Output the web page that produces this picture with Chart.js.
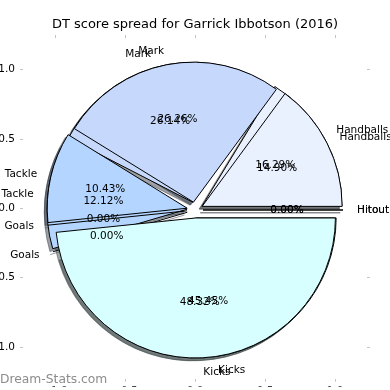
<!DOCTYPE html>
<html>
<head>
<meta charset="utf-8">
<title>DT score spread</title>
<script src="https://cdn.jsdelivr.net/npm/chart.js@4.4.1/dist/chart.umd.min.js"></script>
<style>
    html, body { margin: 0; padding: 0; background: #fff; }
    #wrap { position: relative; width: 390px; height: 390px; overflow: hidden; }
    #wrap canvas { position: absolute; left: 0; top: 0; }
</style>
</head>
<body>
<div id="wrap">
    <canvas id="shadowB" width="390" height="390"></canvas>
    <canvas id="shadowA" width="390" height="390"></canvas>
    <canvas id="pieB" width="390" height="390"></canvas>
    <canvas id="pieA" width="390" height="390"></canvas>
    <canvas id="axes" width="390" height="390"></canvas>
</div>
<script>
// Slices run clockwise from the right-hand side, same as the original plot.
const categories = ['Kicks', 'Goals', 'Tackle', 'Mark', 'Handballs', 'Hitout'];
const seasonValues = [48.32, 0, 10.43, 26.26, 14.90, 0];   // front pie
const careerValues = [45.45, 0, 12.12, 26.14, 16.29, 0];   // pie behind it
const sliceColors = ['#d8ffff', '#a8cdf6', '#b3d5ff', '#c6d9fd', '#e9f0fe', '#9db8dc'];
const xTickValues = [-1, -0.5, 0, 0.5, 1];
const yTickValues = [-1, -0.5, 0, 0.5, 1];
const chartTitle = 'DT score spread for Garrick Ibbotson (2016)';
const watermark = 'Dream-Stats.com';

const FONT = '"DejaVu Sans", Verdana, sans-serif';
const PIE_RADIUS = 140;
const EXPLODE = 8;          // px each wedge is pushed out along its middle
const SHADOW_SHIFT = 2.8;   // px, down-left
const AXIS_LIMIT = 172 / 140;

function shade(hex) {
    const n = parseInt(hex.slice(1), 16);
    const r = Math.round(((n >> 16) & 255) * 0.3);
    const g = Math.round(((n >> 8) & 255) * 0.3);
    const b = Math.round((n & 255) * 0.3);
    return `rgba(${r}, ${g}, ${b}, 0.5)`;
}

// Push every arc out along its bisector; zero-sized arcs become a single edge line.
const explodePlugin = {
    id: 'explode',
    afterDatasetUpdate(chart, args) {
        args.meta.data.forEach(arc => {
            if (arc._exploded) return;
            const draw = arc.draw;
            arc.draw = function (ctx, area) {
                const mid = (this.startAngle + this.endAngle) / 2;
                ctx.save();
                ctx.translate(Math.cos(mid) * EXPLODE, Math.sin(mid) * EXPLODE);
                if (this.circumference === 0) {
                    ctx.strokeStyle = this.options.borderColor;
                    ctx.lineWidth = this.options.borderWidth;
                    ctx.beginPath();
                    ctx.moveTo(this.x, this.y);
                    ctx.lineTo(this.x + Math.cos(this.startAngle) * this.outerRadius,
                               this.y + Math.sin(this.startAngle) * this.outerRadius);
                    ctx.stroke();
                } else {
                    draw.call(this, ctx, area);
                }
                ctx.restore();
            };
            arc._exploded = true;
        });
    }
};

function makePie(id, values, colors, edge, padding) {
    return new Chart(document.getElementById(id), {
        type: 'pie',
        data: {
            labels: categories,
            datasets: [{
                data: values,
                backgroundColor: colors,
                borderColor: edge,
                borderWidth: 1,
                rotation: 90,
                radius: PIE_RADIUS,
                clip: false
            }]
        },
        options: {
            responsive: false,
            animation: false,
            events: [],
            layout: { padding },
            plugins: {
                legend: { display: false },
                tooltip: { enabled: false }
            }
        },
        plugins: [explodePlugin]
    });
}

const shadowPadding = { top: 30 + 2 * SHADOW_SHIFT, right: 2 * SHADOW_SHIFT, left: 0, bottom: 0 };
const piePadding = { top: 30, right: 0, left: 0, bottom: 0 };
const shadowColors = sliceColors.map(shade);

makePie('shadowB', careerValues, shadowColors, shadowColors, shadowPadding);
makePie('shadowA', seasonValues, shadowColors, shadowColors, shadowPadding);
const pieB = makePie('pieB', careerValues, sliceColors, '#000', piePadding);
const pieA = makePie('pieA', seasonValues, sliceColors, '#000', piePadding);

// Labels of both pies go on the top layer so none is hidden by a wedge.
const sliceLabels = {
    id: 'sliceLabels',
    afterDraw(chart) {
        const ctx = chart.ctx;
        ctx.save();
        ctx.font = `10.5px ${FONT}`;
        ctx.fillStyle = '#000';
        ctx.textBaseline = 'middle';
        [[pieB, careerValues], [pieA, seasonValues]].forEach(([pie, values]) => {
            pie.getDatasetMeta(0).data.forEach((arc, i) => {
                const mid = (arc.startAngle + arc.endAngle) / 2;
                const cos = Math.cos(mid), sin = Math.sin(mid);
                const cx = arc.x + cos * EXPLODE;
                const cy = arc.y + sin * EXPLODE;
                const r = arc.outerRadius;
                ctx.textAlign = cos * (1.1 * r + EXPLODE) > 0 ? 'left' : 'right';
                ctx.fillText(categories[i], cx + cos * r * 1.1, cy + sin * r * 1.1);
                ctx.textAlign = 'center';
                ctx.fillText(values[i].toFixed(2) + '%', cx + cos * r * 0.6, cy + sin * r * 0.6);
            });
        });
        ctx.font = `12.3px ${FONT}`;
        ctx.fillStyle = 'rgba(120, 120, 120, 0.85)';
        ctx.textAlign = 'left';
        ctx.textBaseline = 'alphabetic';
        ctx.fillText(watermark, 0, 383);
        ctx.restore();
    }
};

const tickGrid = { drawOnChartArea: false, drawTicks: true, tickLength: 3, color: '#c4c4c4', lineWidth: 1 };
const tickFont = { family: FONT, size: 10.5 };
const fmt = v => v.toFixed(1).replace('-', '\u2212');

function axis(pos, values, size, showLabels) {
    const horizontal = pos === 'top' || pos === 'bottom';
    return {
        type: 'linear',
        axis: horizontal ? 'x' : 'y',
        position: pos,
        min: -AXIS_LIMIT,
        max: AXIS_LIMIT,
        border: { display: false },
        grid: tickGrid,
        afterBuildTicks: s => { s.ticks = values.map(value => ({ value })); },
        afterFit: s => { if (horizontal) s.height = size; else s.width = size; },
        ticks: {
            display: showLabels,
            color: '#000',
            font: tickFont,
            padding: horizontal ? 3 : 5,
            maxRotation: 0,
            autoSkip: false,
            callback: fmt
        }
    };
}

new Chart(document.getElementById('axes'), {
    type: 'scatter',
    data: { datasets: [] },
    options: {
        responsive: false,
        animation: false,
        events: [],
        layout: { padding: 0 },
        plugins: {
            legend: { display: false },
            tooltip: { enabled: false },
            title: {
                display: true,
                text: chartTitle,
                color: '#000',
                font: { family: FONT, size: 13, weight: 'normal' },
                padding: { top: 17, bottom: 0 }
            }
        },
        scales: {
            x: axis('bottom', xTickValues, 8, true),
            x2: axis('top', xTickValues, 5.4, false),
            y: axis('left', yTickValues, 23, true),
            y2: axis('right', yTickValues, 23, false)
        }
    },
    plugins: [sliceLabels]
});
</script>
</body>
</html>
